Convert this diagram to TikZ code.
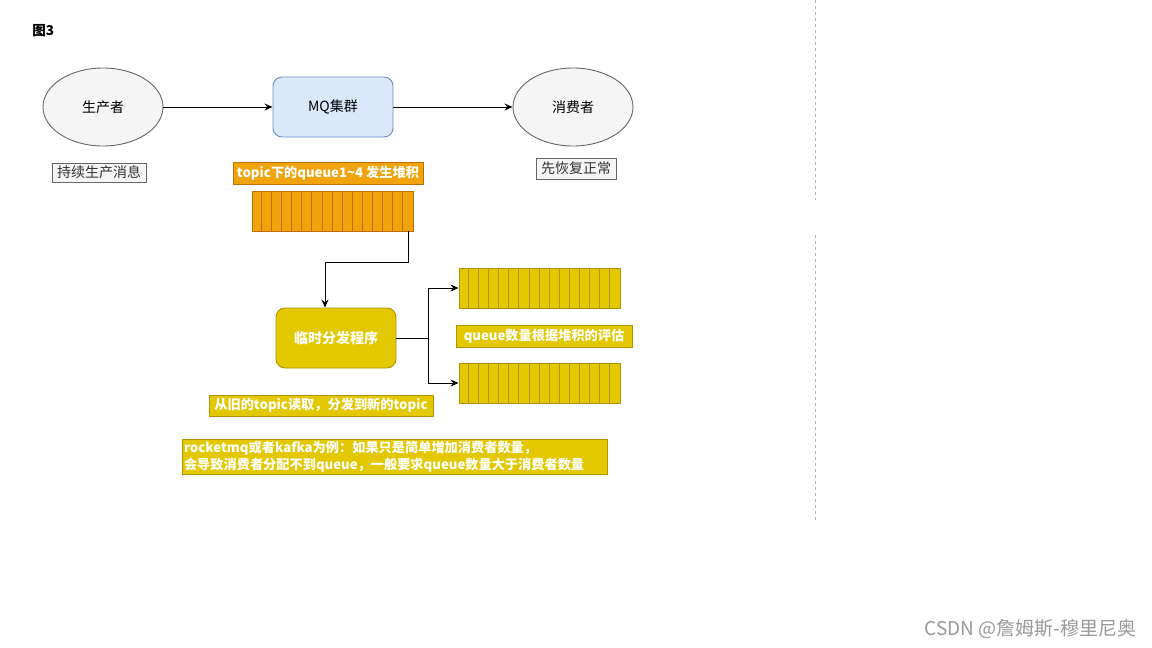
\documentclass[tikz,border=0pt]{standalone}
\usepackage{fontspec}
\setmainfont{Noto Sans CJK SC}
\usetikzlibrary{arrows.meta,positioning,shapes.geometric}
\definecolor{softgray}{HTML}{F5F5F5}
\definecolor{edgegray}{HTML}{666666}
\definecolor{mqblue}{HTML}{DAE8FC}
\definecolor{mqedge}{HTML}{6C8EBF}
\definecolor{rust}{HTML}{F0A30A}
\definecolor{rustedge}{HTML}{BD7000}
\definecolor{mustard}{HTML}{E3C800}
\definecolor{mustardedge}{HTML}{B09500}
\definecolor{sepgray}{HTML}{B3B3B3}

\begin{document}
\begin{tikzpicture}[x=1pt,y=-1pt,line width=0.9pt,
  actor/.style={ellipse,draw=edgegray,fill=softgray,minimum width=120pt,minimum height=78pt,font=\fontsize{14}{16}\selectfont},
  plainnote/.style={draw=edgegray,fill=softgray,text=black!80,inner sep=0pt,minimum height=19pt,font=\fontsize{14}{16}\selectfont},
  hotnote/.style={draw=rustedge,fill=rust,text=white,inner sep=0pt,minimum height=22pt,font=\bfseries\fontsize{13.2}{15}\selectfont},
  warmnote/.style={draw=mustardedge,fill=mustard,text=white,inner sep=0pt,minimum height=21pt,font=\bfseries\fontsize{13.2}{15}\selectfont},
  queuebar/.style={draw=#1edge,fill=#1,minimum width=161pt,minimum height=40pt,inner sep=0pt},
  flow/.style={draw=black,-{Stealth[length=8pt,width=7pt]}}]
  \useasboundingbox (0,0) rectangle (1152,648);
  \fill[white] (0,0) rectangle (1152,648);

  % separator
  \draw[sepgray,dashed,dash pattern=on 3pt off 3pt,line width=0.8pt] (815.5,0) -- (815.5,200);
  \draw[sepgray,dashed,dash pattern=on 3pt off 3pt,line width=0.8pt] (815.5,235) -- (815.5,521);

  \node[anchor=west,font=\bfseries\fontsize{13.5}{15}\selectfont,inner sep=0pt] (title) at (32,31) {图3};

  % top row
  \node[actor] (producer) at (103,107) {生产者};
  \node[draw=mqedge,fill=mqblue,rounded corners=9pt,minimum width=120pt,minimum height=60pt,font=\fontsize{14}{16}\selectfont] (mqcluster) at (333,107) {MQ集群};
  \node[actor] (consumer) at (573,107) {消费者};
  \node[plainnote,minimum width=94pt] (prodnote) at (99,172.5) {持续生产消息};
  \node[plainnote,minimum width=80pt,minimum height=21pt] (consnote) at (576,168.5) {先恢复正常};
  \draw[flow] (producer) -- (mqcluster);
  \draw[flow] (mqcluster) -- (consumer);

  % backlog
  \node[hotnote,minimum width=190pt] (oldlabel) at (328,173) {topic下的queue1\textasciitilde4 发生堆积};
  \node[queuebar=rust] (oldq) at (332.5,211) {};
  \foreach \k in {1,...,15}
    \draw[rustedge] ([xshift=\k*10.06pt]oldq.north west) -- ([xshift=\k*10.06pt]oldq.south west);

  % redistribution
  \node[draw=mustardedge,fill=mustard,text=white,rounded corners=9pt,minimum width=120pt,minimum height=60pt,font=\bfseries\fontsize{14}{16}\selectfont] (distrib) at (336,338) {临时分发程序};
  \node[queuebar=mustard] (newqa) at (539.5,288) {};
  \node[queuebar=mustard] (newqb) at (539.5,383) {};
  \foreach \q in {newqa,newqb}
    \foreach \k in {1,...,15}
      \draw[mustardedge] ([xshift=\k*10.06pt]\q.north west) -- ([xshift=\k*10.06pt]\q.south west);
  \draw[flow] ([xshift=-5pt]oldq.south east) -- ++(0,31) -| ([xshift=-11pt]distrib.north);
  \draw[flow] (distrib.east) -- ++(32,0) |- (newqa.west);
  \draw[flow] (distrib.east) -- ++(32,0) |- (newqb.west);

  \node[warmnote,minimum width=176pt,minimum height=22pt] (qnote) at (544,336) {queue数量根据堆积的评估};
  \node[warmnote,minimum width=224pt] (readnote) at (321,405.5) {从旧的topic读取，分发到新的topic};
  \node[warmnote,text width=421pt,inner xsep=2pt,inner ysep=2pt,align=left,font=\bfseries\fontsize{13.2}{17}\selectfont] (bignote) at (394.5,457) {rocketmq或者kafka为例：如果只是简单增加消费者数量，\\会导致消费者分配不到queue，一般要求queue数量大于消费者数量};

  \node[text=black!40,font=\fontsize{19}{22}\selectfont,anchor=east,inner sep=0pt] (mark) at (1137,629) {CSDN @詹姆斯-穆里尼奥};
\end{tikzpicture}
\end{document}
